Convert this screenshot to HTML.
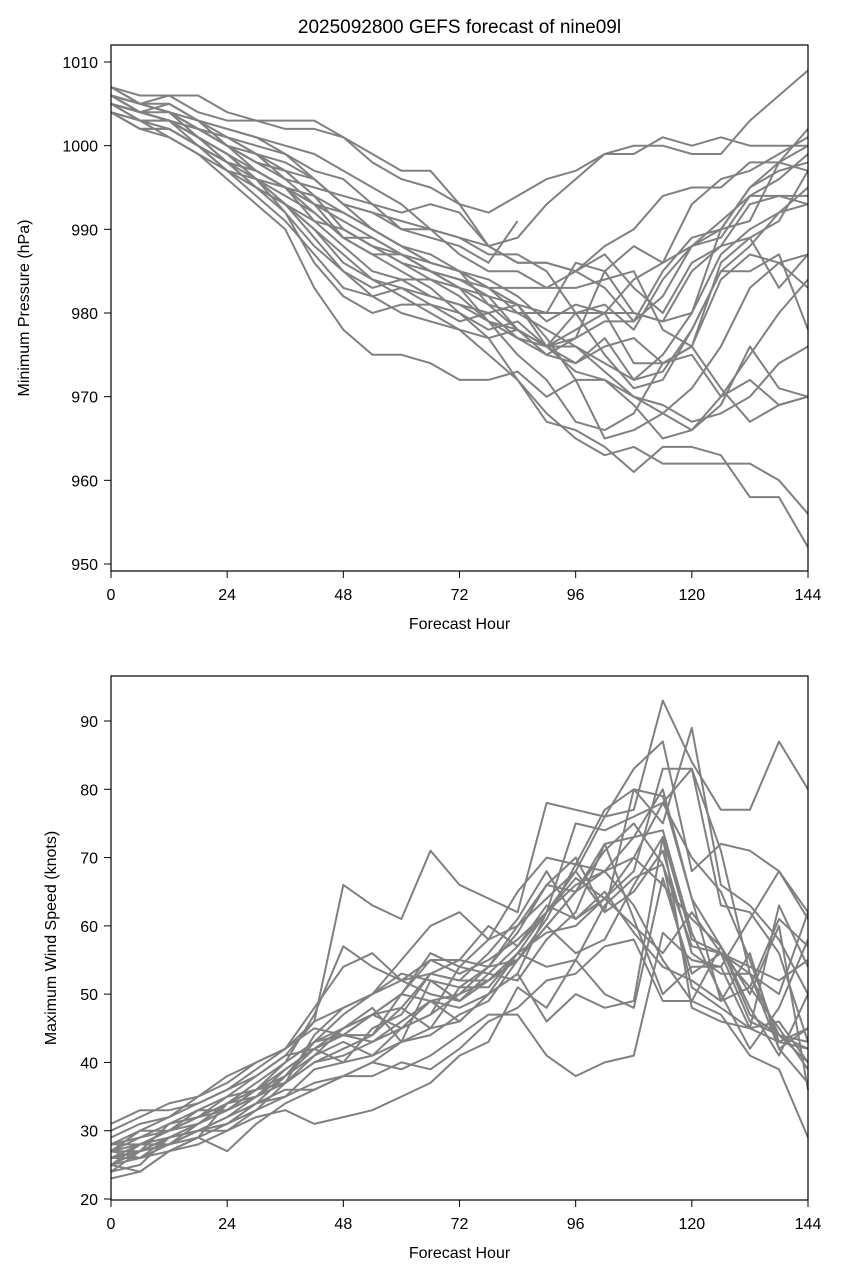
<!DOCTYPE html>
<html><head><meta charset="utf-8"><style>
html,body{margin:0;padding:0;background:#fff;}
svg{display:block;font-family:"Liberation Sans","DejaVu Sans",sans-serif;}
</style></head><body>
<svg id="chart" width="843" height="1279" viewBox="0 0 843 1279"></svg>
<script>
const hours=[0,6,12,18,24,30,36,42,48,54,60,66,72,78,84,90,96,102,108,114,120,126,132,138,144];
const xTicks=[0,24,48,72,96,120,144];
const pTicks=[950,960,970,980,990,1000,1010];
const wTicks=[20,30,40,50,60,70,80,90];
const pressureMembers=[
[1007,1006,1006,1006,1004,1003,1003,1003,1001,999,997,997,993,988,989,993,996,999,999,1001,1000,1001,1000,1000,1000],
[1006,1005,1006,1004,1003,1003,1002,1002,1001,998,996,995,993,992,994,996,997,999,1000,1000,999,999,1003,1006,1009],
[1005,1004,1005,1003,1002,1001,1000,999,997,995,993,990,989,988,986,986,985,988,990,994,995,995,998,998,997],
[1005,1003,1003,1002,1000,998,997,994,992,990,988,986,985,983,983,983,985,983,979,982,988,991,994,996,999],
[1004,1002,1002,1000,998,997,995,991,988,985,984,982,981,980,977,975,977,979,979,985,989,990,995,998,1002],
[1006,1004,1003,1001,999,996,993,989,985,982,980,979,978,977,978,976,974,977,972,975,980,987,990,992,993],
[1004,1003,1001,999,996,993,990,983,978,975,975,974,972,972,973,970,972,965,966,968,971,976,983,986,987],
[1005,1003,1002,1000,997,994,991,987,983,982,983,981,980,978,979,976,976,974,972,973,978,985,988,992,995],
[1006,1005,1004,1001,998,996,992,988,985,983,984,984,983,981,980,978,976,973,970,968,966,970,975,980,984],
[1005,1004,1003,1001,999,996,993,991,990,988,986,984,982,979,975,972,967,966,968,974,975,970,972,969,970],
[1006,1004,1003,1002,1000,997,995,992,989,987,985,983,980,977,972,968,965,963,964,962,962,962,962,960,956],
[1005,1004,1003,1001,998,995,992,986,982,980,981,981,979,980,981,977,972,972,969,965,966,969,976,971,970],
[1004,1002,1002,1000,997,995,993,990,986,984,982,980,978,975,972,967,966,964,961,964,964,963,958,958,952],
[1006,1005,1004,1002,1000,998,997,996,993,992,990,990,987,985,985,983,983,984,985,978,976,984,987,986,983],
[1005,1004,1004,1002,1001,999,996,995,994,993,992,993,992,988,986,986,985,987,983,980,986,988,993,994,994],
[1007,1005,1004,1002,1001,1000,999,996,993,992,991,990,989,987,987,985,980,980,980,979,985,988,989,991,997],
[1005,1004,1003,1002,1000,999,998,996,993,990,988,987,985,984,982,979,981,980,984,986,988,989,994,994,993],
[1006,1004,1003,1000,998,997,995,993,989,987,987,985,984,983,980,980,980,981,978,984,988,990,995,997,998],
[1005,1003,1003,1001,999,996,994,992,989,989,987,986,985,983,981,976,978,980,974,974,976,986,989,983,987],
[1004,1002,1001,999,997,996,995,994,990,988,986,985,984,982,978,975,974,976,977,974,976,971,967,969,970],
[1006,1005,1005,1003,1000,998,996,993,991,989,987,985,983,979,978,976,973,972,970,969,967,968,970,974,976],
[1005,1004,1003,1001,999,997,995,993,992,990,988,986,985,981,978,976,980,975,971,972,978,985,985,987,978],
[1007,1005,1004,1003,1001,999,997,994,990,988,987,985,983,982,981,980,986,985,980,979,980,990,991,998,1000],
[1006,1005,1004,1003,1002,1001,999,997,996,993,990,989,988,986,991,null,null,null,null,null,null,null,null,null,null],
[1004,1003,1002,1000,998,995,993,990,987,984,983,982,981,979,977,976,977,985,988,986,993,996,997,999,1001]
];
const windMembers=[
[26,28,30,32,35,38,41,46,66,63,61,71,66,64,62,78,77,76,77,93,84,77,77,87,80],
[27,26,29,31,34,37,40,47,57,54,52,55,53,55,58,62,68,76,83,87,68,72,71,68,61],
[25,27,28,31,33,35,38,43,47,50,55,60,62,58,60,66,70,62,80,75,89,66,63,58,50],
[29,31,32,34,36,39,42,48,54,56,52,50,49,52,55,60,65,68,63,55,49,47,41,39,29],
[28,30,30,33,33,36,38,42,44,43,46,49,48,50,53,62,67,64,68,83,83,71,53,42,37],
[24,25,29,30,30,32,33,31,32,33,35,37,41,43,51,48,55,50,48,67,53,56,46,44,43],
[23,24,27,29,27,31,34,36,38,38,40,39,42,46,48,52,53,57,58,49,49,57,50,60,36],
[30,32,34,35,38,40,42,45,44,47,50,55,55,54,55,61,69,77,80,79,64,49,51,61,57],
[27,28,30,31,34,36,38,41,43,41,45,47,50,52,55,60,65,71,75,69,51,48,45,43,42],
[25,24,27,28,30,33,35,37,38,40,43,45,51,54,60,64,68,62,65,71,56,53,53,44,42],
[26,26,28,30,32,34,36,36,38,40,39,41,44,47,47,41,38,40,41,59,55,54,61,68,62],
[27,27,31,32,33,36,37,40,41,43,45,49,46,50,53,46,50,48,49,73,48,46,45,46,40],
[24,27,29,30,31,34,35,39,40,45,47,53,55,60,57,62,75,74,76,78,83,63,62,56,43],
[28,29,31,33,35,36,39,42,44,44,50,56,54,58,65,70,69,68,70,66,61,57,48,41,50],
[26,27,28,29,34,35,37,44,48,50,53,52,51,51,56,54,55,63,67,69,57,56,53,50,62],
[31,33,33,34,36,38,41,42,40,41,43,44,47,49,55,60,56,58,66,73,58,56,54,52,55],
[25,28,29,30,32,35,37,41,45,47,50,49,50,54,59,66,65,72,61,50,54,54,45,63,54],
[27,29,30,32,34,36,40,43,44,47,48,45,46,50,56,59,60,64,70,78,70,65,55,43,45],
[26,27,29,31,33,35,39,42,45,48,43,52,49,53,57,63,61,65,59,54,52,49,56,42,45],
[28,28,28,30,31,34,38,43,45,47,45,47,54,53,52,58,62,72,73,74,59,50,42,48,58],
[25,26,27,29,31,33,37,40,42,44,48,53,52,56,61,68,61,64,60,56,62,56,51,45,39],
[27,30,32,35,37,40,42,46,48,50,52,53,52,52,56,62,66,68,73,80,64,57,47,44,40]
];
const NS="http://www.w3.org/2000/svg";
const svg=document.getElementById('chart');
function mk(tag,attrs,parent){const e=document.createElementNS(NS,tag);for(const k in attrs)e.setAttribute(k,attrs[k]);(parent||svg).appendChild(e);return e;}
function panel(opt){
  const g=mk('g',{});
  
  
  const L=111,R=808,T=opt.top,B=opt.bottom;
  const xs=h=>L+(h-0)/144*(R-L);
  const ys=v=>opt.y0px+(v-opt.v0)*(opt.y1px-opt.y0px)/(opt.v1-opt.v0);
  opt.members.forEach((m,i)=>{
    let d='';let pen=false;
    m.forEach((v,j)=>{if(v===null){pen=false;return;}d+=(pen?'L':'M')+xs(hours[j]).toFixed(1)+' '+ys(v).toFixed(1);pen=true;});
    const p=mk('path',{d:d,fill:'none',stroke:'#808080','stroke-width':2,'stroke-linejoin':'round'},g);
    
    
  });
  const fr=mk('rect',{x:L,y:T,width:R-L,height:B-T,fill:'none',stroke:'#000','stroke-width':1.2},g);
  
  
  xTicks.forEach(t=>{
    mk('line',{x1:xs(t),x2:xs(t),y1:B,y2:B+7,stroke:'#000','stroke-width':1},g);
    const tx=mk('text',{x:xs(t),y:B+29,'text-anchor':'middle','font-size':'16px',fill:'#000'},g);
    tx.textContent=t;
    
    
  });
  opt.ticks.forEach(t=>{
    mk('line',{x1:L-7,x2:L,y1:ys(t),y2:ys(t),stroke:'#000','stroke-width':1},g);
    const tx=mk('text',{x:L-13,y:ys(t)+6,'text-anchor':'end','font-size':'16px',fill:'#000'},g);
    tx.textContent=t;
    
    
  });
  const xl=mk('text',{x:(L+R)/2,y:B+58,'text-anchor':'middle','font-size':'16px',fill:'#000'},g);
  xl.textContent='Forecast Hour';
  
  
  const yx=opt.ylabelX, yy=(T+B)/2;
  const yl=mk('text',{x:yx,y:yy,'text-anchor':'middle','font-size':'16px',fill:'#000',transform:'rotate(-90 '+yx+' '+yy+')'},g);
  yl.textContent=opt.ylabel;
  
  
}
const title=mk('text',{x:459.5,y:33,'text-anchor':'middle','font-size':'19px',fill:'#000'});
title.textContent='2025092800 GEFS forecast of nine09l';


panel({name:'pressure-panel',seriesName:'pressure',top:45,bottom:571,v0:1010,y0px:62,v1:950,y1px:564,ticks:pTicks,members:pressureMembers,ylabel:'Minimum Pressure (hPa)',ylabelX:29});
panel({name:'wind-panel',seriesName:'wind',top:676,bottom:1200,v0:90,y0px:721,v1:20,y1px:1199,ticks:wTicks,members:windMembers,ylabel:'Maximum Wind Speed (knots)',ylabelX:56});
</script>
</body></html>
